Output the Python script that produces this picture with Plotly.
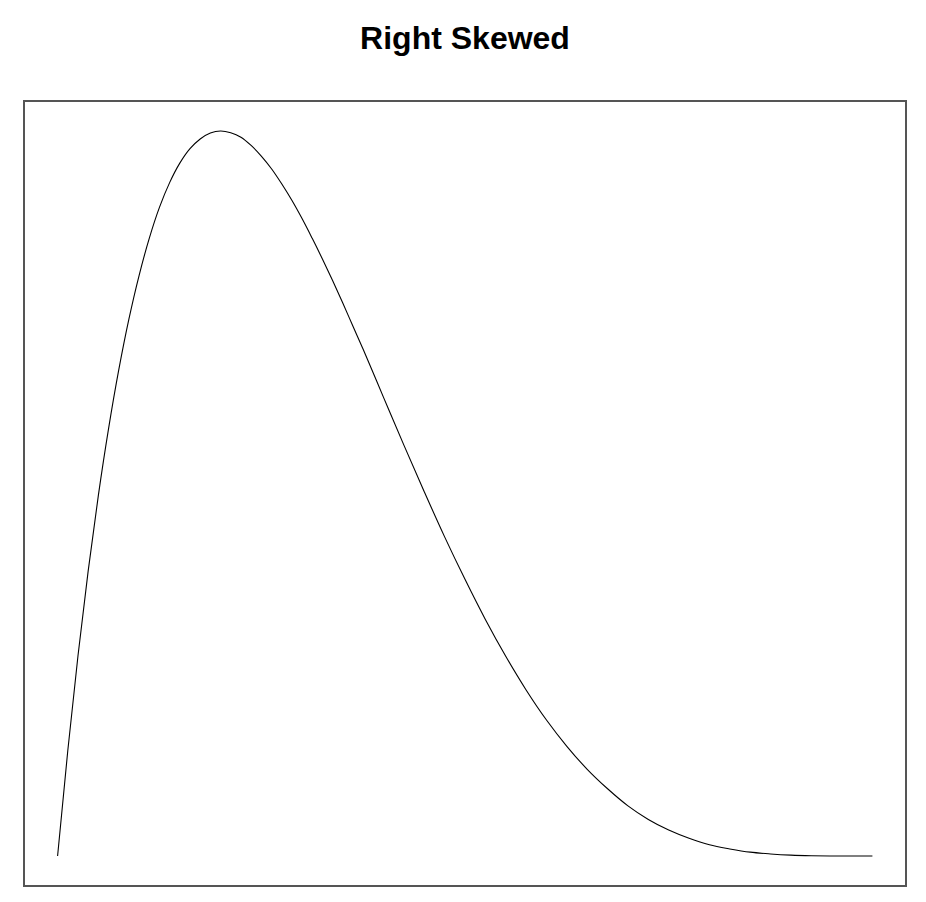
import plotly.graph_objects as go

# Values (density vs. x)
x_vals = [0.0, 0.0125, 0.025, 0.0375, 0.05, 0.0625, 0.075, 0.0875, 0.1, 0.1125,
          0.125, 0.1375, 0.15, 0.1625, 0.175, 0.1875, 0.2, 0.2125, 0.225, 0.2375,
          0.25, 0.2625, 0.275, 0.2875, 0.3, 0.3125, 0.325, 0.3375, 0.35, 0.3625,
          0.375, 0.4, 0.425, 0.45, 0.475, 0.5,
          0.525, 0.55, 0.575, 0.6, 0.625, 0.65, 0.675, 0.7, 0.725, 0.75,
          0.775, 0.8, 0.825, 0.85, 0.875, 0.9, 0.925, 0.95, 0.975, 1.0]
y_vals = [0.0, 0.357, 0.678, 0.966, 1.222, 1.448, 1.647, 1.820, 1.968, 2.094,
          2.199, 2.283, 2.349, 2.398, 2.431, 2.451, 2.458, 2.452, 2.437, 2.409,
          2.373, 2.330, 2.279, 2.223, 2.161, 2.094, 2.024, 1.951, 1.875, 1.796,
          1.718, 1.555, 1.393, 1.235, 1.082, 0.938,
          0.802, 0.677, 0.563, 0.461, 0.372, 0.294, 0.228, 0.170, 0.124, 0.088,
          0.060, 0.038, 0.024, 0.013, 0.007, 0.003, 0.001, 0.0002, 0.0, 0.0]

title_text = "Right Skewed"

fig = go.Figure()
fig.add_trace(go.Scatter(
    x=x_vals, y=y_vals, mode="lines",
    line=dict(color="black", width=1.1, shape="spline", smoothing=1.0),
    showlegend=False, hoverinfo="skip",
))

ymax = max(y_vals)
fig.update_layout(
    width=918, height=894,
    margin=dict(l=17, r=21, t=94, b=17),
    paper_bgcolor="white", plot_bgcolor="white",
    title=dict(text="<b>" + title_text + "</b>", x=0.5, xref="paper",
               y=1 - 30 / 894, yref="container", yanchor="middle",
               xanchor="center",
               font=dict(family="Liberation Sans, Arial, sans-serif", size=32, color="black")),
    xaxis=dict(range=[-0.04, 1.04], showgrid=False, zeroline=False,
               showticklabels=False, ticks="", showline=True, mirror=True,
               linecolor="#555555", linewidth=1.5),
    yaxis=dict(range=[-0.04 * ymax, 1.04 * ymax], showgrid=False, zeroline=False,
               showticklabels=False, ticks="", showline=True, mirror=True,
               linecolor="#555555", linewidth=1.5),
)

fig.write_html("out.html")
